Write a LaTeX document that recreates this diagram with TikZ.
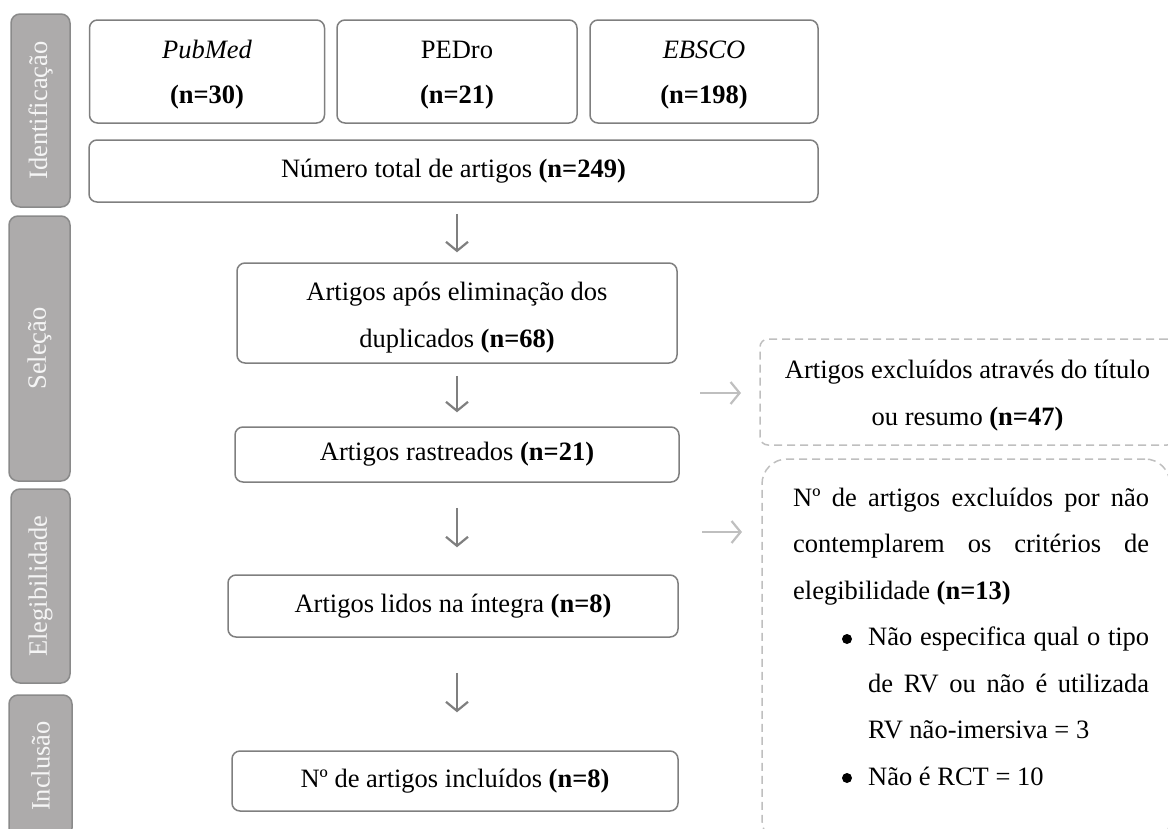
\documentclass[tikz,border=0pt]{standalone}
\usepackage{fontspec}
\setmainfont{Liberation Serif}
\usepackage{graphicx}
\usetikzlibrary{arrows.meta}
\definecolor{boxgray}{HTML}{7F7F7F}
\definecolor{lightgraytwo}{HTML}{BFBFBF}
\definecolor{phasefill}{HTML}{ADABAB}
\definecolor{phasedraw}{HTML}{8A8A8A}
\definecolor{phasetext}{HTML}{F5F5F5}
\newcommand{\mytopstrut}[1]{\rule{0pt}{#1pt}}
\newcommand{\mybotstrut}{\rule[-8pt]{0pt}{8pt}}
\begin{document}
\begin{tikzpicture}[x=1pt,y=-1pt,
  every node/.style={font=\fontsize{26.5}{47}\selectfont},
  flowbox/.style={draw=boxgray, line width=1.5pt, rounded corners=8pt, align=center, inner sep=0pt},
  oneline/.style={text height=18pt, text depth=6pt},
  phase/.style={draw=phasedraw, fill=phasefill, line width=1.5pt, rounded corners=9pt, inner sep=0pt, text=phasetext, font=\fontsize{26.5}{30}\selectfont},
  exclbox/.style={draw=lightgraytwo, line width=1.5pt, dash pattern=on 8pt off 5pt, inner sep=0pt, align=center},
  downarrow/.style={draw=boxgray, line width=2.2pt, -{Straight Barb[length=9pt,width=22pt]}},
  sidearrow/.style={draw=lightgraytwo, line width=2.2pt, -{Straight Barb[length=9pt,width=22pt]}}
]
\useasboundingbox (0,0) rectangle (1168,828);

% phase labels
\node[phase, minimum width=59pt, minimum height=193pt] (pid) at (40.5,110.5) {\rotatebox{90}{Identificação}};
\node[phase, minimum width=61pt, minimum height=265pt] (psel) at (39.5,348.5) {\rotatebox{90}{Seleção}};
\node[phase, minimum width=59pt, minimum height=194pt] (pele) at (40.5,586) {\rotatebox{90}{Elegibilidade}};
\node[phase, minimum width=63pt, minimum height=142pt] (pinc) at (40.5,766) {\rotatebox{90}{Inclusão}};

% flow boxes
\node[flowbox, font=\fontsize{26.5}{45}\selectfont, minimum width=235pt, minimum height=103pt] (pubmed) at (207,71.5) {\mytopstrut{26}\textit{PubMed}\\\textbf{(n=30)}\mybotstrut};
\node[flowbox, font=\fontsize{26.5}{45}\selectfont, minimum width=240pt, minimum height=103pt] (pedro) at (457,71.5) {\mytopstrut{26}PEDro\\\textbf{(n=21)}\mybotstrut};
\node[flowbox, font=\fontsize{26.5}{45}\selectfont, minimum width=228pt, minimum height=103pt] (ebsco) at (704,71.5) {\mytopstrut{26}\textit{EBSCO}\\\textbf{(n=198)}\mybotstrut};
\node[flowbox, oneline, minimum width=729pt, minimum height=62pt] (total) at (453.5,171) {Número total de artigos \textbf{(n=249)}};
\node[flowbox, minimum width=440pt, minimum height=100pt] (elim) at (457,313) {\mytopstrut{29}Artigos após eliminação dos\\duplicados \textbf{(n=68)}\mybotstrut};
\node[flowbox, oneline, minimum width=444pt, minimum height=55pt] (rast) at (457,454.5) {Artigos rastreados \textbf{(n=21)}};
\node[flowbox, oneline, minimum width=450pt, minimum height=62pt] (lidos) at (453,606) {Artigos lidos na íntegra \textbf{(n=8)}};
\node[flowbox, oneline, minimum width=446pt, minimum height=60pt] (incl) at (455,781) {Nº de artigos incluídos \textbf{(n=8)}};

% exclusion boxes
\node[exclbox, rounded corners=8pt, minimum width=415pt, minimum height=106pt] (excl1) at (967.5,392) {\mytopstrut{27}Artigos excluídos através do título\\ou resumo \textbf{(n=47)}\mybotstrut};
\node[exclbox, rounded corners=25pt, minimum width=408pt, minimum height=386pt] (excl2) at (966,652) {};
\node[anchor=north west, inner sep=0pt, text width=356pt, align=justify, font=\fontsize{26.5}{46.5}\selectfont] (excl2text) at (793,486) {%
\parskip=0pt\tolerance=9999\emergencystretch=20pt
\noindent\mytopstrut{20}Nº de artigos excluídos por não\linebreak contemplarem os critérios de\linebreak elegibilidade \textbf{(n=13)}\par
\leftskip=75pt
\noindent Não especifica qual o tipo\linebreak de RV ou não é utilizada\linebreak RV não-imersiva = 3\par
\noindent Não é RCT = 10\par};
\fill (847,639) circle (5pt);
\fill (847,778) circle (5pt);

% arrows
\coordinate (ax) at (457,0);
\draw[downarrow, shorten <=11pt, shorten >=10pt] (total.south -| ax) -- (elim.north -| ax);
\draw[downarrow, shorten <=12pt, shorten >=14pt] (elim.south -| ax) -- (rast.north -| ax);
\draw[downarrow, shorten <=25pt, shorten >=27pt] (rast.south -| ax) -- (lidos.north -| ax);
\draw[downarrow, shorten <=35pt, shorten >=38pt] (lidos.south -| ax) -- (incl.north -| ax);

\coordinate (s1a) at (700,393);
\coordinate (s1b) at (741,393);
\coordinate (s2a) at (702,532);
\coordinate (s2b) at (742,532);
\draw[sidearrow] (s1a) -- (s1b);
\draw[sidearrow] (s2a) -- (s2b);
\end{tikzpicture}
\end{document}
